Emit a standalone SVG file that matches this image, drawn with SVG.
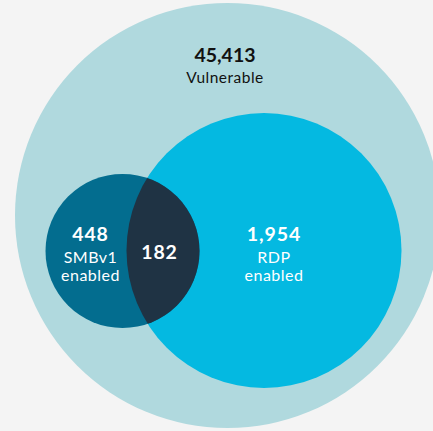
<svg xmlns="http://www.w3.org/2000/svg" width="433" height="431" viewBox="0 0 433 431">
  <style>
    .num { font-family: Lato, "Noto Sans", sans-serif; font-weight: 700; font-size: 19.5px; text-anchor: middle; }
    .lbl { font-family: Lato, "Noto Sans", sans-serif; font-weight: 400; font-size: 16px; text-anchor: middle; letter-spacing: 0.5px; }
    .inner { letter-spacing: 0.9px; }
    .dark { fill: #111111; }
    .light { fill: #ffffff; }
  </style>
  <defs>
    <clipPath id="rdpClip">
      <circle cx="264" cy="250.5" r="137.5"/>
    </clipPath>
  </defs>
  <rect width="433" height="431" fill="#f4f4f4"/>

  <g id="vulnerable">
    <circle cx="227.5" cy="215.5" r="212.5" fill="#b0d9de"/>
    <text class="num dark" x="225" y="62">45,413</text>
    <text class="lbl dark" x="225" y="83" style="font-size:15.5px">Vulnerable</text>
  </g>

  <g id="rdp">
    <circle cx="264" cy="250.5" r="137.5" fill="#04b9e1"/>
    <text class="num light inner" x="274" y="241">1,954</text>
    <text class="lbl light" x="274" y="263">RDP</text>
    <text class="lbl light" x="274" y="281">enabled</text>
  </g>

  <g id="smbv1">
    <circle cx="122.5" cy="251" r="77" fill="#036d8f"/>
    <text class="num light inner" x="90.5" y="241">448</text>
    <text class="lbl light" x="90.5" y="263">SMBv1</text>
    <text class="lbl light" x="90.5" y="281">enabled</text>
  </g>

  <g id="overlap">
    <circle cx="122.5" cy="251" r="77" fill="#1f3344" clip-path="url(#rdpClip)"/>
    <text class="num light inner" x="159.5" y="259">182</text>
  </g>
</svg>
